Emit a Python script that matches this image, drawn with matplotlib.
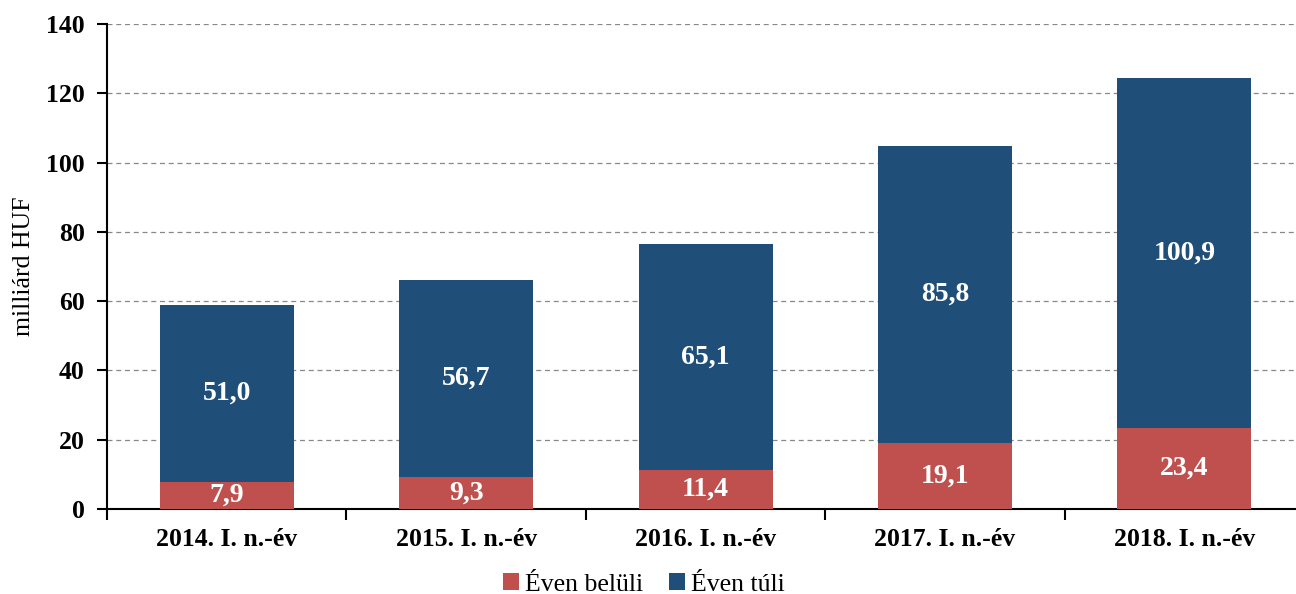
import matplotlib.pyplot as plt
import numpy as np

plt.rcParams['font.family'] = ['Liberation Serif', 'DejaVu Serif']

categories = ['2014. I. n.-év', '2015. I. n.-év', '2016. I. n.-év', '2017. I. n.-év', '2018. I. n.-év']
within_year = [7.9, 9.3, 11.4, 19.1, 23.4]
beyond_year = [51.0, 56.7, 65.1, 85.8, 100.9]
series_names = ['Éven belüli', 'Éven túli']
yticks = [0, 20, 40, 60, 80, 100, 120, 140]

red = '#C0504D'
blue = '#1F4E79'

fig = plt.figure(figsize=(12.96, 5.94), dpi=100)
ax = fig.add_axes([0.0826, 0.1431, 0.9236, 0.8165])

x = np.arange(len(categories))
w = 0.56
ax.bar(x, within_year, w, color=red, label=series_names[0], zorder=3)
ax.bar(x, beyond_year, w, bottom=within_year, color=blue, label=series_names[1], zorder=3)

for i in range(len(categories)):
    ax.text(x[i], within_year[i] / 2, f'{within_year[i]:.1f}'.replace('.', ','),
            ha='center', va='center', color='white', fontsize=20, fontweight='bold', zorder=4)
    ax.text(x[i], within_year[i] + beyond_year[i] / 2, f'{beyond_year[i]:.1f}'.replace('.', ','),
            ha='center', va='center', color='white', fontsize=20, fontweight='bold', zorder=4)

ax.set_xlim(-0.5, len(categories) - 0.5)
ax.set_ylim(0, 140)
ax.set_yticks(yticks)
ax.set_yticklabels([str(v) for v in yticks], fontsize=18.5, fontweight='bold')
ax.set_xticks(x)
ax.set_xticklabels(categories, fontsize=18.5, fontweight='bold')
ax.set_xticks(np.arange(-0.5, len(categories)), minor=True)
ax.tick_params(axis='x', which='major', length=0, pad=14)
ax.tick_params(axis='x', which='minor', length=8, width=1.5, direction='out')
ax.tick_params(axis='y', length=7, width=1.5, direction='out', pad=9)

ax.yaxis.grid(True, linestyle=(0, (4, 3)), color='#888888', linewidth=0.9, zorder=0)
ax.spines['top'].set_visible(False)
ax.spines['right'].set_visible(False)
ax.spines['left'].set_linewidth(1.5)
ax.spines['bottom'].set_linewidth(1.5)

ax.set_ylabel('milliárd HUF', fontsize=18.5, labelpad=8)

fig.legend(*ax.get_legend_handles_labels(), loc='center', bbox_to_anchor=(0.497, 0.016), ncol=2,
           frameon=False, fontsize=18.5, handlelength=0.6, handleheight=0.6, handletextpad=0.25,
           columnspacing=1.0, borderpad=0, borderaxespad=0)

fig.savefig('out.png', dpi=100)
